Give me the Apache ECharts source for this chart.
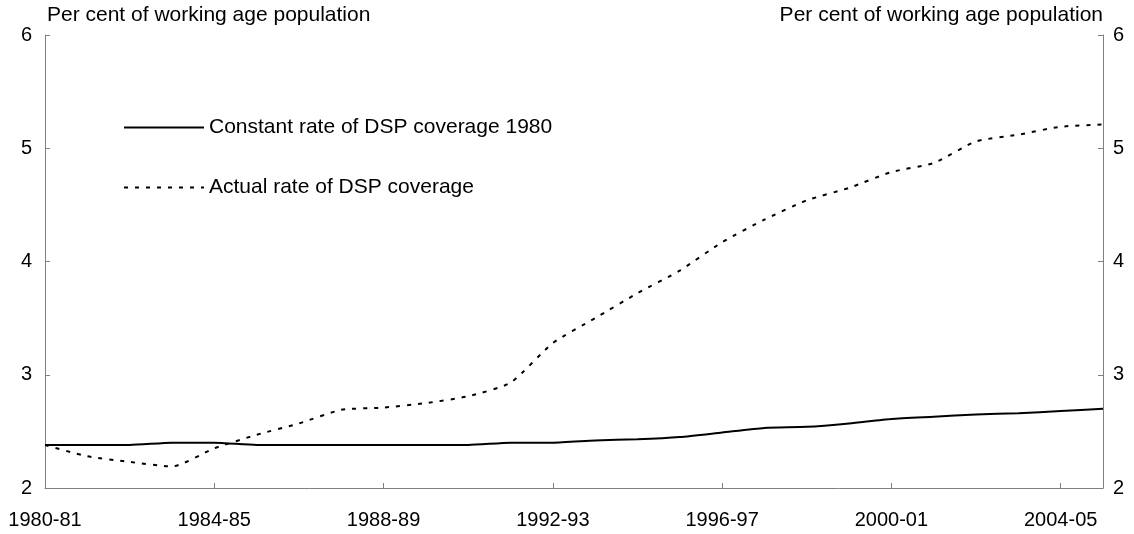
<!DOCTYPE html>
<html>
<head>
<meta charset="utf-8">
<script src="https://cdn.jsdelivr.net/npm/echarts@6/dist/echarts.min.js"></script>
<style>
  html, body { margin: 0; padding: 0; background: #fff; }
  #chart { width: 1134px; height: 534px; }
</style>
</head>
<body>
<div id="chart"></div>
<script>
var years = ["1980-81", "1981-82", "1982-83", "1983-84", "1984-85", "1985-86", "1986-87",
  "1987-88", "1988-89", "1989-90", "1990-91", "1991-92", "1992-93", "1993-94", "1994-95",
  "1995-96", "1996-97", "1997-98", "1998-99", "1999-00", "2000-01", "2001-02", "2002-03",
  "2003-04", "2004-05", "2005-06"];

// constant rate of DSP coverage 1980
var constantRate = [2.38, 2.38, 2.38, 2.40, 2.40, 2.38, 2.38, 2.38, 2.38, 2.38, 2.38, 2.40, 2.40,
  2.42, 2.43, 2.45, 2.49, 2.53, 2.54, 2.57, 2.61, 2.63, 2.65, 2.66, 2.68, 2.70];

// actual rate of DSP coverage
var actualRate = [2.38, 2.28, 2.23, 2.19, 2.35, 2.47, 2.57, 2.69, 2.71, 2.75, 2.81, 2.93, 3.28,
  3.50, 3.72, 3.92, 4.17, 4.37, 4.54, 4.65, 4.79, 4.87, 5.06, 5.12, 5.19, 5.21];

var yName = "Per cent of working age population";
var fontFam = "Liberation Sans, Arial, sans-serif";

var chart = echarts.init(document.getElementById("chart"));

function valueAxis(pos) {
  return {
    type: "value",
    position: pos,
    min: 2,
    max: 6,
    interval: 1,
    name: yName,
    nameLocation: "end",
    nameGap: 20,
    nameTextStyle: {
      color: "#000",
      fontSize: 21,
      fontFamily: fontFam,
      align: pos == "left" ? "left" : "right",
      verticalAlign: "middle",
      padding: pos == "left" ? [0, 0, 0, 2] : 0
    },
    axisLine: { show: true, lineStyle: { color: "#808080", width: 1 } },
    axisTick: { show: true, inside: true, length: 5, lineStyle: { color: "#808080" } },
    axisLabel: { color: "#000", fontSize: 20, fontFamily: fontFam, margin: pos == "left" ? 13 : 10 },
    splitLine: { show: false }
  };
}

chart.setOption({
  animation: false,
  grid: { left: 45, right: 31, top: 35, bottom: 46 },
  legend: {
    orient: "vertical",
    left: 123,
    top: 117,
    padding: 0,
    itemWidth: 80,
    itemHeight: 14,
    itemGap: 39,
    itemStyle: { opacity: 0 },
    textStyle: { color: "#000", fontSize: 21, fontFamily: fontFam },
    data: ["Constant rate of DSP coverage 1980", "Actual rate of DSP coverage"]
  },
  xAxis: {
    type: "category",
    data: years,
    boundaryGap: false,
    axisLine: { lineStyle: { color: "#808080", width: 1 } },
    axisTick: { inside: true, length: 5, interval: 3, lineStyle: { color: "#808080" } },
    axisLabel: { interval: 3, color: "#000", fontSize: 20, fontFamily: fontFam, margin: 22 }
  },
  yAxis: [valueAxis("left"), valueAxis("right")],
  series: [
    {
      name: "Constant rate of DSP coverage 1980",
      type: "line",
      data: constantRate,
      symbol: "none",
      smooth: 0.2,
      lineStyle: { color: "#000", width: 2 },
      itemStyle: { color: "#000" }
    },
    {
      name: "Actual rate of DSP coverage",
      type: "line",
      data: actualRate,
      symbol: "none",
      smooth: 0.2,
      lineStyle: { color: "#000", width: 2, type: [4, 7] },
      itemStyle: { color: "#000" }
    }
  ]
});
</script>
</body>
</html>
